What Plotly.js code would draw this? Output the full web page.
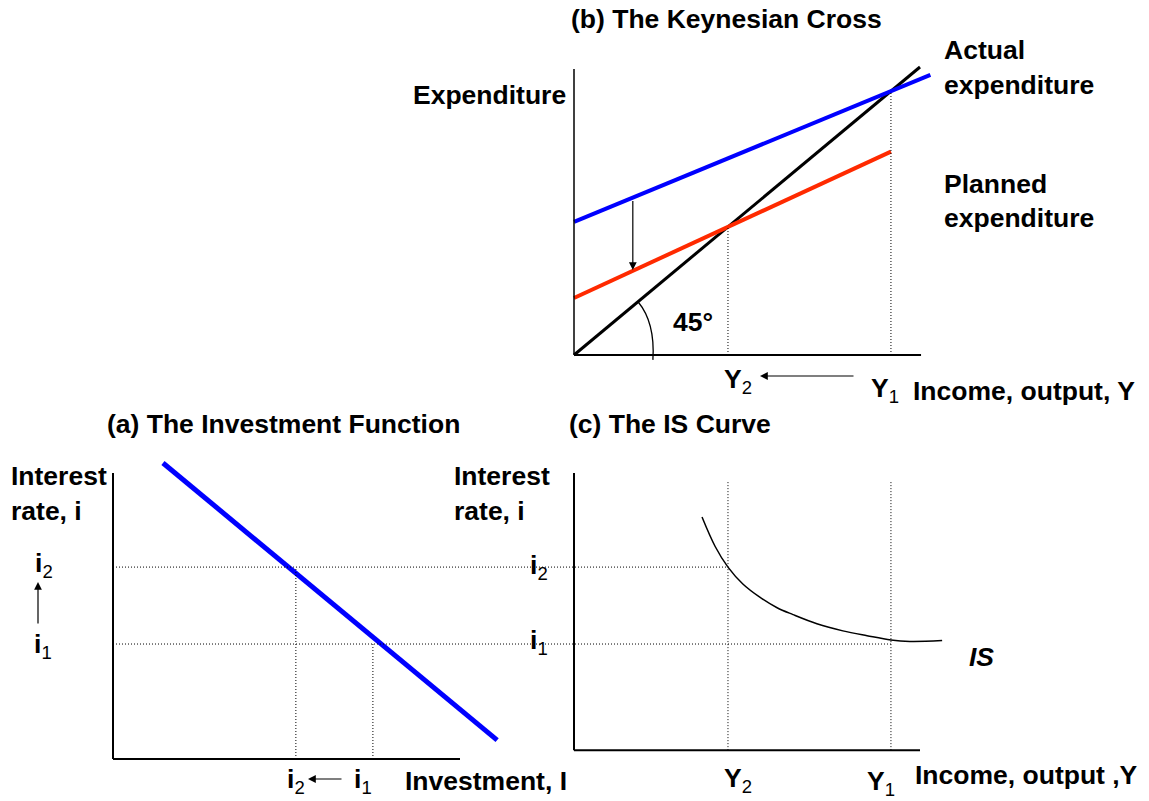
<!DOCTYPE html>
<html>
<head>
<meta charset="utf-8">
<script src="https://cdn.plot.ly/plotly-3.0.1.min.js"></script>
<style>
  html, body { margin: 0; padding: 0; background: #ffffff; }
  #chart { width: 1149px; height: 801px; }
</style>
</head>
<body>
<div id="chart"></div>
<script>
// ---- Equilibrium values shared by the three panels ----
const Y1 = 91.6;   // income before the fall in planned spending
const Y2 = 44.5;   // income after the fall
const i1 = 40.2;   // low interest rate
const i2 = 67.1;   // high interest rate
const I1 = 74.9;   // investment at i1
const I2 = 52.7;   // investment at i2

// ---- (b) Keynesian cross ----
const income45 = [0, 100];          // actual expenditure = income
const spend45 = [0, 100];
const incomePE1 = [0, 103];         // planned expenditure at i1
const spendPE1 = [46.2, 97.3];
const incomePE2 = [0, 91.6];        // planned expenditure at i2
const spendPE2 = [19.8, 70.6];
const shiftAt = 17;                 // where the downward shift arrow sits
const shiftFrom = 54.0;
const shiftTo = 29.5;

// ---- (a) investment function ----
const investI = [14.4, 110.7];
const investRate = [103.5, 6.6];

// ---- (c) IS curve ----
const isIncome = [37.0, 40.8, 44.5, 48.8, 53.8, 58.7, 63.3, 70.2, 77.7, 84.7, 91.6, 97.1, 106.4];
const isRate   = [84.6, 74.3, 67.1, 61.2, 56.5, 52.9, 50.5, 47.3, 44.8, 43.1, 41.6, 41.1, 41.4];

// ---- page geometry (pixels) ----
const W = 1149, H = 801;
const FONT = 'Liberation Sans, Arial, Helvetica, sans-serif';
const FS = 26.5;

// A hidden axis whose data units map linearly onto a pixel span.
function xAxisPx(left, right, origin, scale, anchor) {
  return { domain: [left / W, right / W], range: [(left - origin) / scale, (right - origin) / scale],
           autorange: false, visible: false, fixedrange: true, anchor: anchor };
}
function yAxisPx(bottom, top, origin, scale, anchor) {
  return { domain: [1 - bottom / H, 1 - top / H], range: [(origin - bottom) / scale, (origin - top) / scale],
           autorange: false, visible: false, fixedrange: true, anchor: anchor };
}

const xa = xAxisPx(90, 560, 113, 3.47, 'y');     // panel (a) investment
const xc = xAxisPx(560, 960, 574, 3.46, 'y');    // panel (c) income
const ya = yAxisPx(775, 440, 759, 2.86, 'x');    // interest rate, shared by (a) and (c)
const xb = xAxisPx(540, 960, 574, 3.46, 'y2');   // panel (b) income
const yb = yAxisPx(375, 40, 355, 2.88, 'x2');    // panel (b) expenditure

const cBase = 3.1;   // the (c) frame sits a little above the (a) baseline
const cTop = 100;
const cGuideTop = 96.9;

const traces = [
  { x: income45, y: spend45, xaxis: 'x2', yaxis: 'y2', mode: 'lines',
    line: { color: '#000000', width: 3 } },
  { x: incomePE2, y: spendPE2, xaxis: 'x2', yaxis: 'y2', mode: 'lines',
    line: { color: '#ff2a00', width: 4 } },
  { x: incomePE1, y: spendPE1, xaxis: 'x2', yaxis: 'y2', mode: 'lines',
    line: { color: '#0000ff', width: 4 } },
  { x: investI, y: investRate, xaxis: 'x', yaxis: 'y', mode: 'lines',
    line: { color: '#0000ff', width: 5 } },
  { x: isIncome, y: isRate, xaxis: 'x3', yaxis: 'y', mode: 'lines',
    line: { color: '#000000', width: 1.5, shape: 'spline', smoothing: 1 } }
];

function seg(xref, yref, x0, y0, x1, y1, width, dash) {
  return { type: 'line', xref: xref, yref: yref, x0: x0, y0: y0, x1: x1, y1: y1,
           line: { color: '#000000', width: width, dash: dash || 'solid' } };
}
const DOT = '1px,2px';

const shapes = [
  // (b) frame and guides
  seg('x2', 'y2', 0, 0, 0, 99.3, 1.5),
  seg('x2', 'y2', 0, 0, 100.3, 0, 2),
  seg('x2', 'y2', Y2, 0, Y2, Y2, 1, DOT),
  seg('x2', 'y2', Y1, 0, Y1, Y1, 1, DOT),
  { type: 'path', xref: 'x2', yref: 'y2', path: 'M 22.8,-1.7 Q 23.5,11.3 18.5,18.5',
    line: { color: '#000000', width: 1.3 } },
  // (a) frame and guides
  seg('x', 'y', 0, 0, 0, 100, 2),
  seg('x', 'y', 0, 0, 100, 0, 2),
  seg('x', 'y', 0, i2, xa.range[1], i2, 1, DOT),
  seg('x', 'y', 0, i1, xa.range[1], i1, 1, DOT),
  seg('x', 'y', I2, 0, I2, i2, 1, DOT),
  seg('x', 'y', I1, 0, I1, i1, 1, DOT),
  // (c) frame and guides
  seg('x3', 'y', 0, cBase, 0, cTop, 2),
  seg('x3', 'y', 0, cBase, 100, cBase, 2),
  seg('x3', 'y', xc.range[0], i2, Y2, i2, 1, DOT),
  seg('x3', 'y', xc.range[0], i1, Y1, i1, 1, DOT),
  seg('x3', 'y', Y2, cBase, Y2, cGuideTop, 1, DOT),
  seg('x3', 'y', Y1, cBase, Y1, cGuideTop, 1, DOT)
];

function label(text, px, py, opts) {
  return Object.assign({ text: text, xref: 'paper', yref: 'paper', x: px / W, y: 1 - py / H,
    xanchor: 'center', yanchor: 'middle', showarrow: false,
    font: { family: FONT, size: FS, color: '#000000' } }, opts || {});
}
function arrow(headPx, headPy, dx, dy) {
  return { text: '', xref: 'paper', yref: 'paper', x: headPx / W, y: 1 - headPy / H,
    ax: dx, ay: dy, showarrow: true, arrowhead: 2, arrowsize: 1.3, arrowwidth: 1.2,
    arrowcolor: '#000000', standoff: 0, startstandoff: 0 };
}

const sub = (base, s) => '<b>' + base + '</b><sub>' + s + '</sub>';

const annotations = [
  // (b)
  label('<b>(b) The Keynesian Cross</b>', 726, 19),
  label('<b>Expenditure</b>', 489, 95),
  label('<b>Actual</b>', 942, 50, { xanchor: 'left' }),
  label('<b>expenditure</b>', 942, 85, { xanchor: 'left' }),
  label('<b>Planned</b>', 942, 184, { xanchor: 'left' }),
  label('<b>expenditure</b>', 942, 218, { xanchor: 'left' }),
  label('<b>45°</b>', 693, 322),
  Object.assign(label(sub('Y', '2'), 0, 381), { xref: 'x2', x: Y2, xshift: 10 }),
  Object.assign(label(sub('Y', '1'), 0, 390), { xref: 'x2', x: Y1, xshift: -6 }),
  label('<b>Income, output, Y</b>', 911, 391, { xanchor: 'left' }),
  arrow(760, 376, 95, 0),
  { text: '', xref: 'x2', yref: 'y2', axref: 'x2', ayref: 'y2',
    x: shiftAt, y: shiftTo, ax: shiftAt, ay: shiftFrom, showarrow: true,
    arrowhead: 2, arrowsize: 1.3, arrowwidth: 1.2, arrowcolor: '#000000', standoff: 0 },

  // (a)
  label('<b>(a) The Investment Function</b>', 283, 424),
  label('<b>Interest</b>', 9, 476, { xanchor: 'left' }),
  label('<b>rate, i</b>', 9, 511, { xanchor: 'left' }),
  Object.assign(label(sub('i', '2'), 44, 0), { yref: 'y', y: i2, yshift: 2 }),
  Object.assign(label(sub('i', '1'), 43, 0), { yref: 'y', y: i1, yshift: -2 }),
  arrow(38, 582, 0, 43),
  Object.assign(label(sub('i', '2'), 0, 781), { xref: 'x', x: I2 }),
  Object.assign(label(sub('i', '1'), 0, 781), { xref: 'x', x: I1, xshift: -10 }),
  arrow(308, 779, 35, 0),
  label('<b>Investment, I</b>', 403, 781, { xanchor: 'left' }),

  // (c)
  label('<b>(c) The IS Curve</b>', 670, 424),
  label('<b>Interest</b>', 452, 476, { xanchor: 'left' }),
  label('<b>rate, i</b>', 452, 511, { xanchor: 'left' }),
  Object.assign(label(sub('i', '2'), 539, 0), { yref: 'y', y: i2 }),
  Object.assign(label(sub('i', '1'), 539, 0), { yref: 'y', y: i1, yshift: 2 }),
  Object.assign(label(sub('Y', '2'), 0, 780), { xref: 'x3', x: Y2, xshift: 10 }),
  Object.assign(label(sub('Y', '1'), 0, 783), { xref: 'x3', x: Y1, xshift: -10 }),
  label('<b>Income, output ,Y</b>', 913, 775, { xanchor: 'left' }),
  label('<b><i>IS</i></b>', 981, 657)
];

const layout = {
  width: W, height: H, autosize: false,
  margin: { l: 0, r: 0, t: 0, b: 0, pad: 0 },
  paper_bgcolor: '#ffffff', plot_bgcolor: 'rgba(0,0,0,0)',
  showlegend: false, hovermode: false,
  xaxis: xa, yaxis: ya, xaxis2: xb, yaxis2: yb, xaxis3: xc,
  shapes: shapes, annotations: annotations
};

Plotly.newPlot('chart', traces, layout, { staticPlot: true, displayModeBar: false });
</script>
</body>
</html>
